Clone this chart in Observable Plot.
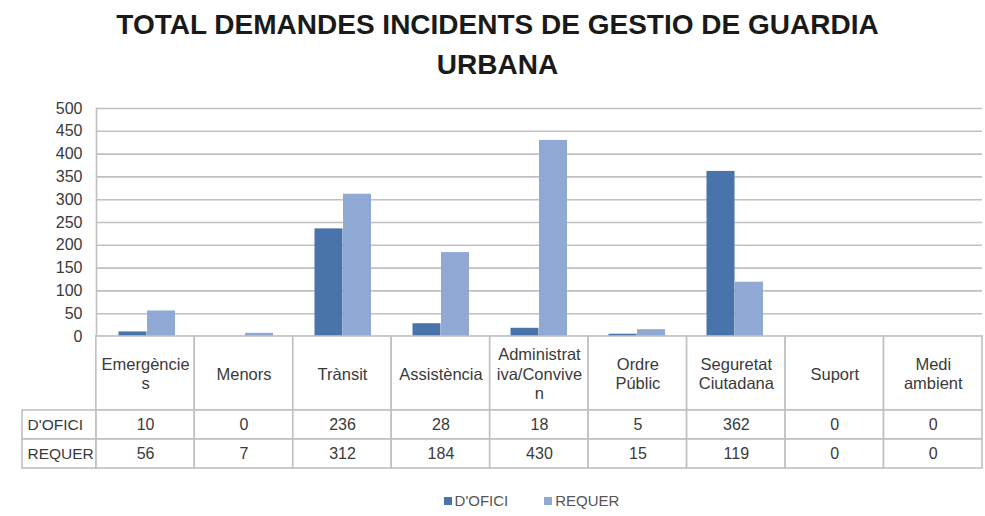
<!DOCTYPE html>
<html>
<head>
<meta charset="utf-8">
<script src="https://cdn.jsdelivr.net/npm/d3@7"></script>
<script src="https://cdn.jsdelivr.net/npm/@observablehq/plot@0.6"></script>
<style>
  body { margin: 0; background: #fff; font-family: "Liberation Sans", Arial, sans-serif; }
  #wrap { position: relative; width: 985px; height: 516px; overflow: hidden; }
  #title { position: absolute; left: 0; top: 0; width: 985px; box-sizing: border-box; padding: 5px 0 0 10px;
           text-align: center; font-weight: bold; font-size: 28px; line-height: 40px; color: #1a1a1a; }
  #chart { position: absolute; left: 0; top: 84px; }
  #table { position: absolute; left: 0; top: 336px; }
  #legend { position: absolute; left: 0; top: 484px; width: 985px; box-sizing: border-box; padding-left: 78px; }
  div.lg-swatches-wrap { justify-content: center !important; }
  span.lg-swatch { margin-right: 36px !important; }
  span.lg-swatch:last-child { margin-right: 0 !important; }
  span.lg-swatch > svg { margin-right: 3px !important; }
</style>
</head>
<body>
<div id="wrap">
  <div id="title">TOTAL DEMANDES INCIDENTS DE GESTIO DE GUARDIA<br>URBANA</div>
  <div id="chart"></div>
  <div id="table"></div>
  <div id="legend"></div>
</div>
<script>
// ---- data ----
const categories = ["Emergències", "Menors", "Trànsit", "Assistència", "Administrativa/Conviven", "Ordre Públic", "Seguretat Ciutadana", "Suport", "Medi ambient"];
const categoryLabels = ["Emergèncie\ns", "Menors", "Trànsit", "Assistència", "Administrat\niva/Convive\nn", "Ordre\nPúblic", "Seguretat\nCiutadana", "Suport", "Medi\nambient"];
const series = ["D'OFICI", "REQUER"];
const dofici = [10, 0, 236, 28, 18, 5, 362, 0, 0];
const requer = [56, 7, 312, 184, 430, 15, 119, 0, 0];
const colors = ["#4873ab", "#8fa9d4"];
const yTicks = [0, 50, 100, 150, 200, 250, 300, 350, 400, 450, 500];

const font = "'Liberation Sans', Arial, sans-serif";
const textColor = "#3a3a3a";
const lineColor = "#c0c0c0";

const rows = categories.flatMap((c, i) => [
  {category: c, series: series[0], value: dofici[i]},
  {category: c, series: series[1], value: requer[i]}
]);

// ---- bar chart ----
const chart = Plot.plot({
  width: 985,
  height: 252,
  marginTop: 24,
  marginBottom: 0,
  marginLeft: 96,
  marginRight: 3,
  style: {fontFamily: font, fontSize: "16px", color: textColor, overflow: "visible", background: "transparent"},
  x: {domain: categories, padding: 0, axis: null},
  y: {domain: [0, 500], label: null},
  color: {domain: series, range: colors},
  marks: [
    Plot.gridY(yTicks, {stroke: lineColor, strokeOpacity: 1, strokeWidth: 1.6}),
    Plot.frame({anchor: "left", stroke: lineColor, strokeWidth: 1.6}),
    Plot.axisY(yTicks, {tickSize: 0, tickPadding: 14, fontSize: 16, fill: textColor, label: null}),
    Plot.barY(rows.filter(d => d.series === series[0]), {x: "category", y: "value", fill: "series", insetLeft: 20.5, insetRight: 49.5}),
    Plot.barY(rows.filter(d => d.series === series[1]), {x: "category", y: "value", fill: "series", insetLeft: 49, insetRight: 21})
  ]
});
document.getElementById("chart").appendChild(chart);

// ---- data table ----
const hdr = 2.55; // header row height, in data-row units
const cells = [];
categories.forEach((c, i) => {
  cells.push({x1: i, x2: i + 1, y1: 0, y2: hdr});
  series.forEach((s, j) => cells.push({x1: i, x2: i + 1, y1: hdr + j, y2: hdr + j + 1}));
});
series.forEach((s, j) => cells.push({x1: -0.75, x2: 0, y1: hdr + j, y2: hdr + j + 1}));

const table = Plot.plot({
  width: 985,
  height: 134,
  marginTop: 0,
  marginBottom: 2,
  marginLeft: 22,
  marginRight: 3,
  style: {fontFamily: font, fontSize: "16px", color: textColor, overflow: "visible", background: "transparent"},
  x: {domain: [-0.75, categories.length], axis: null},
  y: {domain: [0, hdr + series.length], range: [0, 132], axis: null},
  marks: [
    Plot.rect(cells, {x1: "x1", x2: "x2", y1: "y1", y2: "y2", fill: "white", stroke: lineColor, strokeWidth: 1.6}),
    Plot.text(categoryLabels, {x: (d, i) => i + 0.5, y: () => hdr / 2, text: d => d, fontSize: 16.5, lineHeight: 1.17, fill: textColor}),
    Plot.text(dofici, {x: (d, i) => i + 0.5, y: () => hdr + 0.5, text: d => String(d), fontSize: 16, fill: textColor}),
    Plot.text(requer, {x: (d, i) => i + 0.5, y: () => hdr + 1.5, text: d => String(d), fontSize: 16, fill: textColor}),
    Plot.text(series, {x: () => -0.75, y: (d, i) => hdr + i + 0.5, text: d => d, textAnchor: "start", dx: 5, fontSize: 15.5, fill: textColor})
  ]
});
document.getElementById("table").appendChild(table);

// ---- legend ----
const legend = Plot.legend({
  color: {domain: series, range: colors},
  legend: "swatches",
  swatchSize: 8,
  className: "lg",
  style: {fontFamily: font, fontSize: "15px", color: "#555555"}
});
document.getElementById("legend").appendChild(legend);
</script>
</body>
</html>
